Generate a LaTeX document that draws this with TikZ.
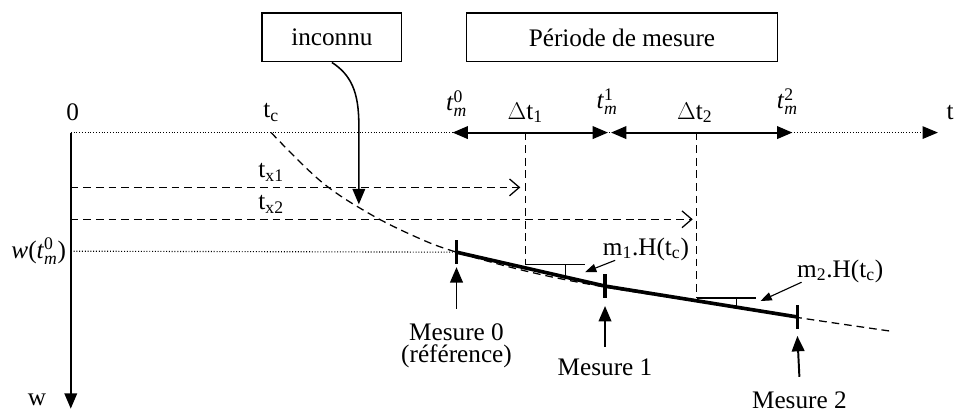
\documentclass[tikz,border=0pt]{standalone}
\usepackage{amsmath}
\usepackage{fontspec}
\setmainfont{Liberation Serif}
\usetikzlibrary{positioning,arrows.meta,calc}

\newcommand{\tmes}[1]{\textit{t}$^{\text{#1}}_{\textit{m}}$}

\begin{document}
\begin{tikzpicture}[
  x=0.025cm, y=-0.025cm,
  lbl/.style={font=\fontsize{18}{21}\selectfont, inner sep=1pt},
  boxe/.style={draw, line width=0.9pt, minimum height=1.225cm, font=\fontsize{18}{21}\selectfont},
  dotline/.style={line width=0.8pt, dash pattern=on 0.7pt off 1.3pt},
  dashline/.style={line width=0.9pt, dash pattern=on 5.5pt off 3.5pt},
  thinline/.style={line width=0.8pt},
  bigtip/.style={-{Triangle[length=11pt,width=9pt]}},
  smalltip/.style={-{Triangle[length=8pt,width=6pt]}},
  opentip/.style={-{Straight Barb[length=7pt,width=12pt,line width=0.9pt]}},
  mesline/.style={line width=2.6pt},
  tickm/.style={line width=2.6pt}
]

% boites
\node[boxe, minimum width=3.5cm] (inc) at (333,37.5) {inconnu};
\node[boxe, minimum width=7.8cm] (per) at (624,37.5) {Période de mesure};

% axes
\coordinate (O) at (71,133);
\coordinate (tend) at (941,133);
\coordinate (wend) at (71,410);
\draw[dotline, -{Triangle[length=11pt,width=9pt]}] (O) -- (tend);
\draw[line width=1.3pt, bigtip] (O) -- (wend);
\node[lbl] (l0) at (73,113) {0};
\node[lbl] (ltc) at (272,113) {t\textsubscript{c}};
\node[lbl, anchor=west] (lt) at (948,113) {t};
\node[lbl] (lw) at (37,401) {w};

% instants de mesure
\coordinate (m0) at (454,133);
\coordinate (m1a) at (610,133);
\coordinate (m1b) at (613,133);
\coordinate (m2) at (795,133);
\draw[line width=1.4pt, {Triangle[length=11pt,width=9pt]}-{Triangle[length=11pt,width=9pt]}] (m0) -- (m1a);
\draw[line width=1.4pt, {Triangle[length=11pt,width=9pt]}-{Triangle[length=11pt,width=9pt]}] (m1b) -- (m2);
\node[lbl] (lm0) at (458,104) {\tmes{0}};
\node[lbl] (ldt1) at (527,113) {$\Delta$t\textsubscript{1}};
\node[lbl] (lm1) at (609,102) {\tmes{1}};
\node[lbl] (ldt2) at (697,113) {$\Delta$t\textsubscript{2}};
\node[lbl] (lm2) at (790,102) {\tmes{2}};

% points de mesure
\coordinate (M0) at (458,253);
\coordinate (M1) at (607,287);
\coordinate (M2) at (800,318);

% courbe theorique
\draw[dashline] plot[smooth, tension=0.6] coordinates {(272,133) (322,182) (370,214) (418,238) (458,253) (532,273) (607,288) (700,302.5) (800,318.5) (892,332)};
\draw[mesline] (M0) -- (M1) -- (M2);
\foreach \p in {M0,M1,M2}
  \draw[tickm] ($(\p)+(0,-12)$) -- ($(\p)+(0,12)$);

% durees t_x
\coordinate (x1s) at (71,188);
\coordinate (x1e) at (522,188);
\coordinate (x2s) at (71,220);
\coordinate (x2e) at (695,220);
\draw[dashline, opentip] (x1s) -- (x1e);
\draw[dashline, opentip] (x2s) -- (x2e);
\node[lbl] (ltx1) at (272,173) {t\textsubscript{x1}};
\node[lbl] (ltx2) at (272,205) {t\textsubscript{x2}};

% niveau de reference
\coordinate (w0) at (71,252);
\draw[dotline] (w0) -- (M0);
\node[lbl, anchor=east] (lw0) at (68,252) {\textit{w}(\tmes{0})};

% verticales et pentes
\coordinate (d1t) at (527,133);
\coordinate (d1b) at (527,265);
\coordinate (h1e) at (587,265);
\coordinate (d2t) at (699,133);
\coordinate (d2b) at (699,299);
\coordinate (h2e) at (758,299);
\draw[dashline] (d1t) -- (d1b);
\draw[dashline] (d2t) -- (d2b);
\draw[thinline] (d1b) -- (h1e);
\draw[thinline] (d2b) -- (h2e);
\draw[thinline] (567,265) -- (567,277);
\draw[thinline] (739,299) -- (739,307);

\node[lbl] (lh1) at (648,250) {m\textsubscript{1}.H(t\textsubscript{c})};
\node[lbl] (lh2) at (843,272) {m\textsubscript{2}.H(t\textsubscript{c})};
\coordinate (a1) at (587,273);
\coordinate (a2) at (763,302);
\draw[thinline, smalltip] (lh1.south west) ++(14,-2) -- (a1);
\draw[thinline, smalltip] (lh2.south west) ++(6,-2) -- (a2);

% fleche inconnu
\coordinate (cinc) at (360,205);
\draw[line width=1.1pt, bigtip] (inc.south) .. controls (352,75) and (360,92) .. (360,125) -- (cinc);

% mesures
\node[lbl] (mes0) at (458,333) {Mesure 0};
\node[lbl] (ref0) at (458,357) {(référence)};
\node[lbl] (mes1) at (607,368) {Mesure 1};
\node[lbl] (mes2) at (802,402) {Mesure 2};
\coordinate (b0) at (458,310);
\coordinate (b1) at (607,348);
\coordinate (b2) at (802,378);
\draw[line width=1.4pt, bigtip] (b0) -- ($(M0)+(0,15)$);
\draw[line width=1.4pt, bigtip] (b1) -- ($(M1)+(0,20)$);
\draw[line width=1.4pt, bigtip] (b2) -- ($(M2)+(0,19)$);

\useasboundingbox (0,0) rectangle (955,417);
\end{tikzpicture}
\end{document}
